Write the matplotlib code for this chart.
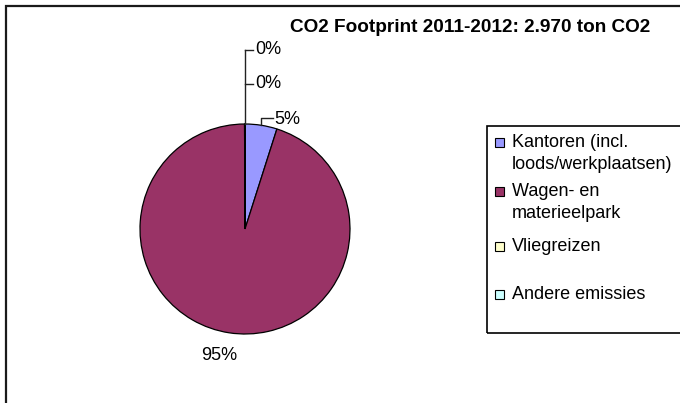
import matplotlib
matplotlib.use('Agg')
import matplotlib.pyplot as plt
from matplotlib.patches import Rectangle
import numpy as np

plt.rcParams['font.family'] = ['Liberation Sans', 'DejaVu Sans']

title = 'CO2 Footprint 2011-2012: 2.970 ton CO2'
categories = ['Kantoren (incl.\nloods/werkplaatsen)', 'Wagen- en\nmaterieelpark',
              'Vliegreizen', 'Andere emissies']
values = [146, 2822, 1, 1]   # ton CO2 (approx.)
colors = ['#9999FF', '#993366', '#FFFFCC', '#CCFFFF']

W, H = 680, 403
fig = plt.figure(figsize=(6.8, 4.03), dpi=100)
ax = fig.add_axes([0, 0, 1, 1])

def Y(y):
    # pixel rows counted from the top
    return H - y

cx, cy, r = 245, 229, 105
wedges, _ = ax.pie(values, colors=colors, startangle=90, counterclock=False,
                   center=(cx, Y(cy)), radius=r,
                   wedgeprops=dict(edgecolor='black', linewidth=0.9))
ax.set_xlim(0, W)
ax.set_ylim(0, H)
ax.set_aspect('equal')
ax.axis('off')

total = sum(values)
pcts = [f'{round(100 * v / total)}%' for v in values]
fs = 13

# big slice label (Excel puts it under the pie)
ax.text(219, Y(355), pcts[1], ha='center', va='center', fontsize=fs)

lc = '#222222'
# 5% label with leader
w = wedges[0]
mid = np.deg2rad((w.theta1 + w.theta2) / 2)
px, py = cx + r * np.cos(mid), Y(cy) + r * np.sin(mid)
ax.plot([px, px, 273], [py, Y(118), Y(118)], color=lc, lw=1)
ax.text(274, Y(119), pcts[0], ha='left', va='center', fontsize=fs)

# tiny slices at the top, labels stacked above
top_x, top_y = cx, Y(cy) + r
ax.plot([top_x, top_x], [top_y, Y(50)], color=lc, lw=1)
for yy, lab in zip([50, 84], [pcts[3], pcts[2]]):
    ax.plot([top_x, top_x + 8], [Y(yy), Y(yy)], color=lc, lw=1)
    ax.text(top_x + 10, Y(yy), lab, ha='left', va='center', fontsize=fs)

# title
ax.text(470, Y(28), title, ha='center', va='center', fontsize=13.7, fontweight='bold')

# legend (drawn by hand, Excel-like spacing)
ax.add_patch(Rectangle((487, Y(333)), 230, 207, fill=False, edgecolor='black', lw=1.2))
leg_y = [142, 191, 246, 294]
for c, lab, yy in zip(colors, categories, leg_y):
    ax.add_patch(Rectangle((495, Y(yy) - 4.5), 9, 9, facecolor=c, edgecolor='black', lw=0.8))
    ax.text(512, Y(yy) + 8, lab, ha='left', va='top', fontsize=fs, linespacing=1.38)

# chart border
ax.add_patch(Rectangle((5.5, -20), 720, H - 5.5 + 20, fill=False, edgecolor='#1a1a1a',
                       lw=1.6, clip_on=True))

fig.savefig('out.png', dpi=100)
